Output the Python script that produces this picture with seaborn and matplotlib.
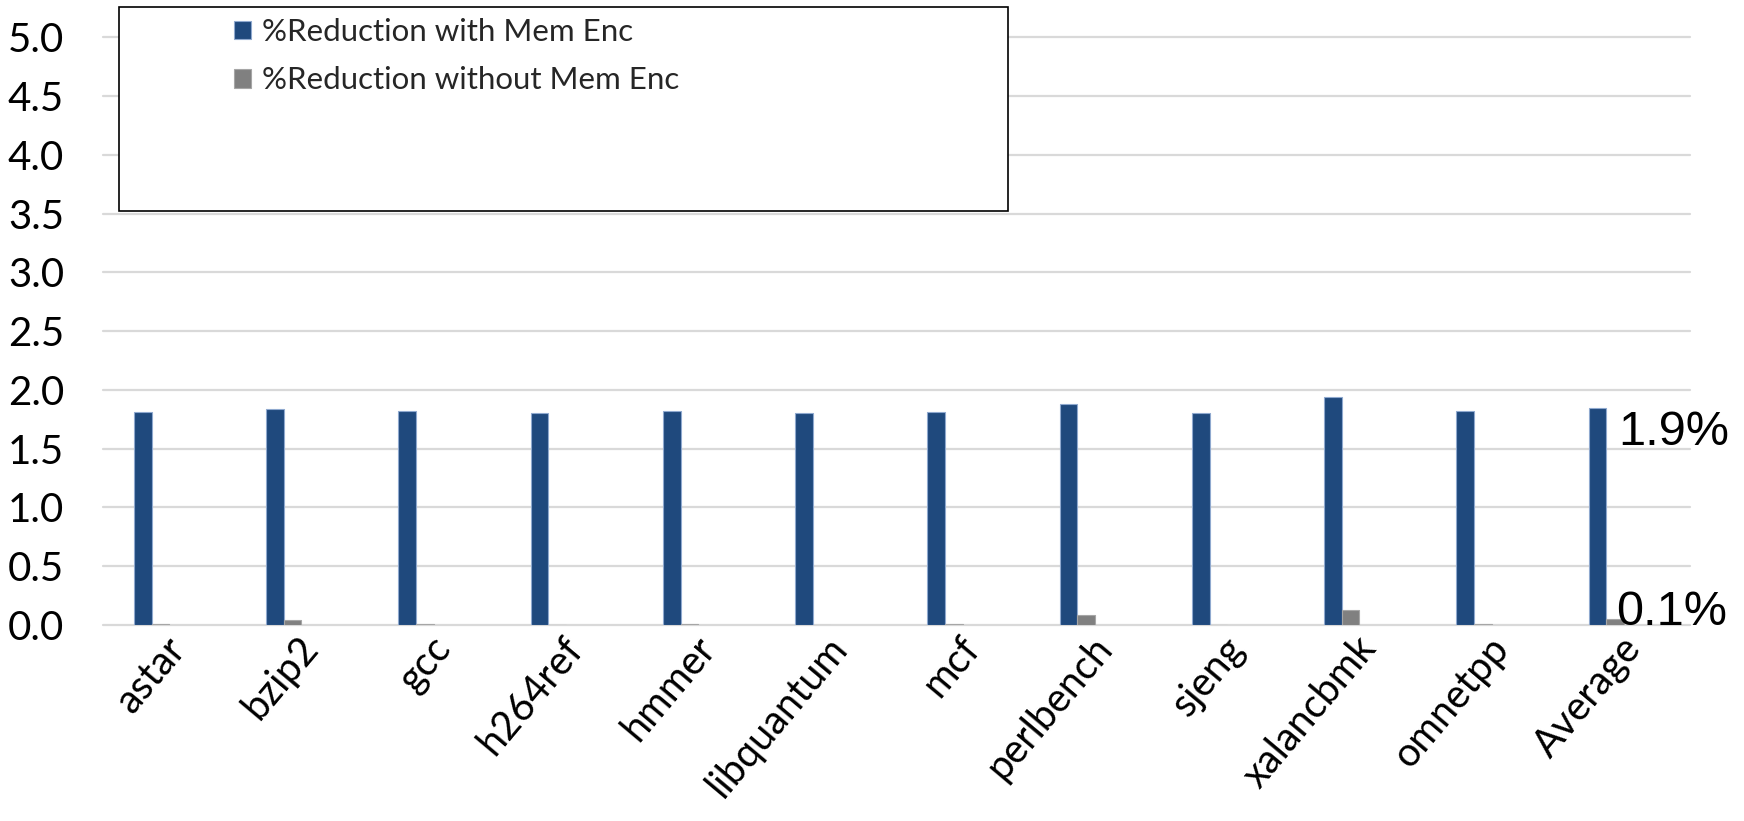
import matplotlib
matplotlib.use("Agg")
import matplotlib.pyplot as plt
import matplotlib.transforms as mtransforms
from matplotlib.patches import Rectangle, Patch
import pandas as pd
import seaborn as sns

# Benchmarks on the x axis
benchmarks = ["astar", "bzip2", "gcc", "h264ref", "hmmer", "libquantum",
              "mcf", "perlbench", "sjeng", "xalancbmk", "omnetpp", "Average"]

# Percentage reduction per benchmark
with_mem_enc = [1.81, 1.84, 1.82, 1.80, 1.82, 1.80, 1.81, 1.88, 1.80, 1.94, 1.82, 1.85]
without_mem_enc = [0.01, 0.04, 0.012, 0.0, 0.01, 0.0, 0.005, 0.085, 0.0, 0.13, 0.01, 0.05]

series_names = ["%Reduction with Mem Enc", "%Reduction without Mem Enc"]
# two unused slots in each group keep the four-bar cluster spacing
spare_series = ["spare 1", "spare 2"]

y_ticks = [0.0, 0.5, 1.0, 1.5, 2.0, 2.5, 3.0, 3.5, 4.0, 4.5, 5.0]

BLUE = "#1f497d"
GRAY = "#808080"
GRID = "#d9d9d9"

# long-form table for seaborn
rows = []
for name, vals in zip(series_names, [with_mem_enc, without_mem_enc]):
    for b, v in zip(benchmarks, vals):
        rows.append({"benchmark": b, "series": name, "value": v})
for name in spare_series:
    for b in benchmarks:
        rows.append({"benchmark": b, "series": name, "value": 0.0})
df = pd.DataFrame(rows)

sns.set_theme(style="white")
plt.rcParams["font.family"] = ["Lato", "DejaVu Sans"]

W, H = 1744, 821
fig = plt.figure(figsize=(W / 100, H / 100), dpi=100)
ax = fig.add_axes([103 / W, 1 - 625 / H, (1690 - 103) / W, (625 - 37.5) / H])

palette = {series_names[0]: BLUE, series_names[1]: GRAY,
           spare_series[0]: "white", spare_series[1]: "white"}
sns.barplot(data=df, x="benchmark", y="value", hue="series",
            order=benchmarks, hue_order=series_names + spare_series,
            palette=palette, width=0.532, saturation=1, errorbar=None,
            legend=False, ax=ax)

edge_colors = ["#8fa9cf", "#a6a6a6"]
for i, cont in enumerate(ax.containers):
    for p in cont.patches:
        if i < 2:
            p.set_edgecolor(edge_colors[i])
            p.set_linewidth(0.8)
        else:
            p.set_visible(False)

ax.set_xlim(-0.5, len(benchmarks) - 0.5)
ax.set_ylim(0, 5.0)
ax.set_yticks(y_ticks)
ax.set_yticklabels([f"{t:.1f}" for t in y_ticks], fontsize=29, color="black")
ax.set_xlabel("")
ax.set_ylabel("")

ax.set_axisbelow(True)
ax.grid(axis="y", color=GRID, linewidth=1.6)
ax.grid(axis="x", visible=False)
for gl in ax.get_ygridlines():
    gl.set_clip_on(False)
for s in ax.spines.values():
    s.set_visible(False)
ax.tick_params(axis="both", length=0)
ax.tick_params(axis="y", pad=28)

ax.set_xticks(range(len(benchmarks)))
ax.set_xticklabels(benchmarks, rotation=50, ha="right", va="center",
                   rotation_mode="anchor", fontsize=28.5, color="black")
shift = mtransforms.ScaledTranslation(10 / 100, -12 / 100, fig.dpi_scale_trans)
for lbl in ax.get_xticklabels():
    lbl.set_transform(lbl.get_transform() + shift)

# value labels next to the Average group
avg_i = len(benchmarks) - 1
ax.annotate(f"{with_mem_enc[avg_i]:.1f}%", xy=(avg_i, with_mem_enc[avg_i]),
            xytext=(-6 * 0.72, -37.5 * 0.72), textcoords="offset points",
            ha="left", va="baseline", fontsize=35,
            family="Liberation Sans", color="black", annotation_clip=False)
ax.annotate(f"{without_mem_enc[avg_i]:.1f}%", xy=(avg_i, without_mem_enc[avg_i]),
            xytext=(-8 * 0.72, -6 * 0.72), textcoords="offset points",
            ha="left", va="baseline", fontsize=35,
            family="Liberation Sans", color="black", annotation_clip=False)

# legend box
fig.add_artist(Rectangle((119 / W, 1 - 211 / H), (1008 - 119) / W, (211 - 7) / H,
                         transform=fig.transFigure, facecolor="white",
                         edgecolor="black", linewidth=1.2, zorder=3))
handles = [Patch(facecolor=BLUE, edgecolor=edge_colors[0], linewidth=0.8),
           Patch(facecolor=GRAY, edgecolor=edge_colors[1], linewidth=0.8)]
leg = fig.legend(handles, series_names, loc="upper left",
                 bbox_to_anchor=(234 / W, 1 - 18 / H), frameon=False,
                 fontsize=22.5, handlelength=0.55, handleheight=0.55,
                 handletextpad=0.36, labelspacing=0.65, borderpad=0,
                 borderaxespad=0)
leg.set_zorder(5)

fig.savefig("out.png", dpi=100, facecolor="white")
